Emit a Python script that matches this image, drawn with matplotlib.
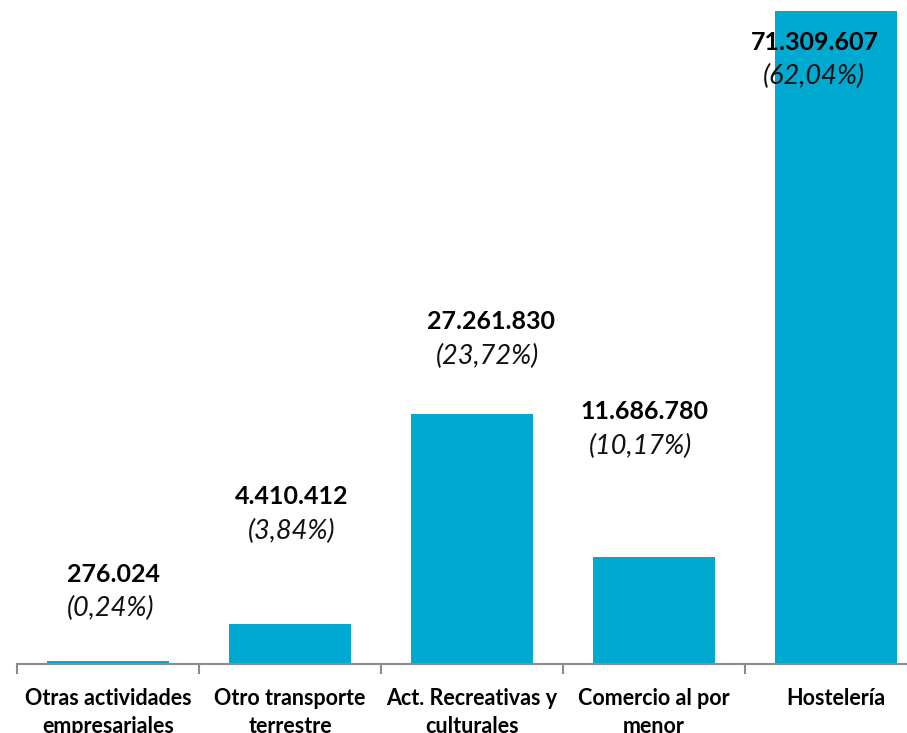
import matplotlib
matplotlib.use("Agg")
import matplotlib.pyplot as plt
import numpy as np

categories = ["Otras actividades\nempresariales", "Otro transporte\nterrestre",
              "Act. Recreativas y\nculturales", "Comercio al por\nmenor", "Hostelería"]
values = [276024, 4410412, 27261830, 11686780, 71309607]
value_labels = ["276.024", "4.410.412", "27.261.830", "11.686.780", "71.309.607"]
pct_labels = ["(0,24%)", "(3,84%)", "(23,72%)", "(10,17%)", "(62,04%)"]
# label placement (pixels): height above axis line, horizontal shift of value / percent
label_px = [90, 167, 342, 252, 622]
value_dx = [5, 2, 19, -10, -21]
pct_dx = [3, 2, 15, -14, -22]

plt.rcParams['font.family'] = ['Lato', 'DejaVu Sans']

W, H = 907, 733
fig = plt.figure(figsize=(W/100, H/100), dpi=100)
axis_y = 664
left = 17
cat_w = 182
ax = fig.add_axes([left/W, (H-axis_y)/H, 5*cat_w/W, axis_y/H])
ymax = 71309607 * axis_y / 653
ax.set_ylim(0, ymax)
ax.set_xlim(0, 5)

x = np.arange(5) + 0.5
ax.bar(x, values, width=0.665, color="#00A9D0", zorder=2)

px2pt = 72 / 100
for xi, vl, pl, ly, vdx, pdx in zip(x, value_labels, pct_labels, label_px, value_dx, pct_dx):
    yv = ymax * ly / axis_y
    ax.annotate(vl, (xi, yv), xytext=(vdx * px2pt, 0), textcoords="offset points",
                ha="center", va="center", fontsize=18, fontweight="bold", color="black", zorder=3)
    ax.annotate(pl, (xi, yv), xytext=(pdx * px2pt, -25), textcoords="offset points",
                ha="center", va="center", fontsize=19.5, fontstyle="italic", color="#111111", zorder=3)

for s in ["top", "right", "left"]:
    ax.spines[s].set_visible(False)
ax.spines["bottom"].set_color("#8C8C8C")
ax.spines["bottom"].set_linewidth(1.5)
ax.set_yticks([])
ax.set_xticks(x)
ax.set_xticklabels(categories, fontsize=15.5, fontweight="bold", linespacing=1.45)
ax.tick_params(axis="x", length=0, pad=17)
ax.set_xticks(np.arange(0, 6), minor=True)
ax.tick_params(axis="x", which="minor", length=7, width=1.5, color="#8C8C8C")

fig.savefig("out.png", dpi=100)
